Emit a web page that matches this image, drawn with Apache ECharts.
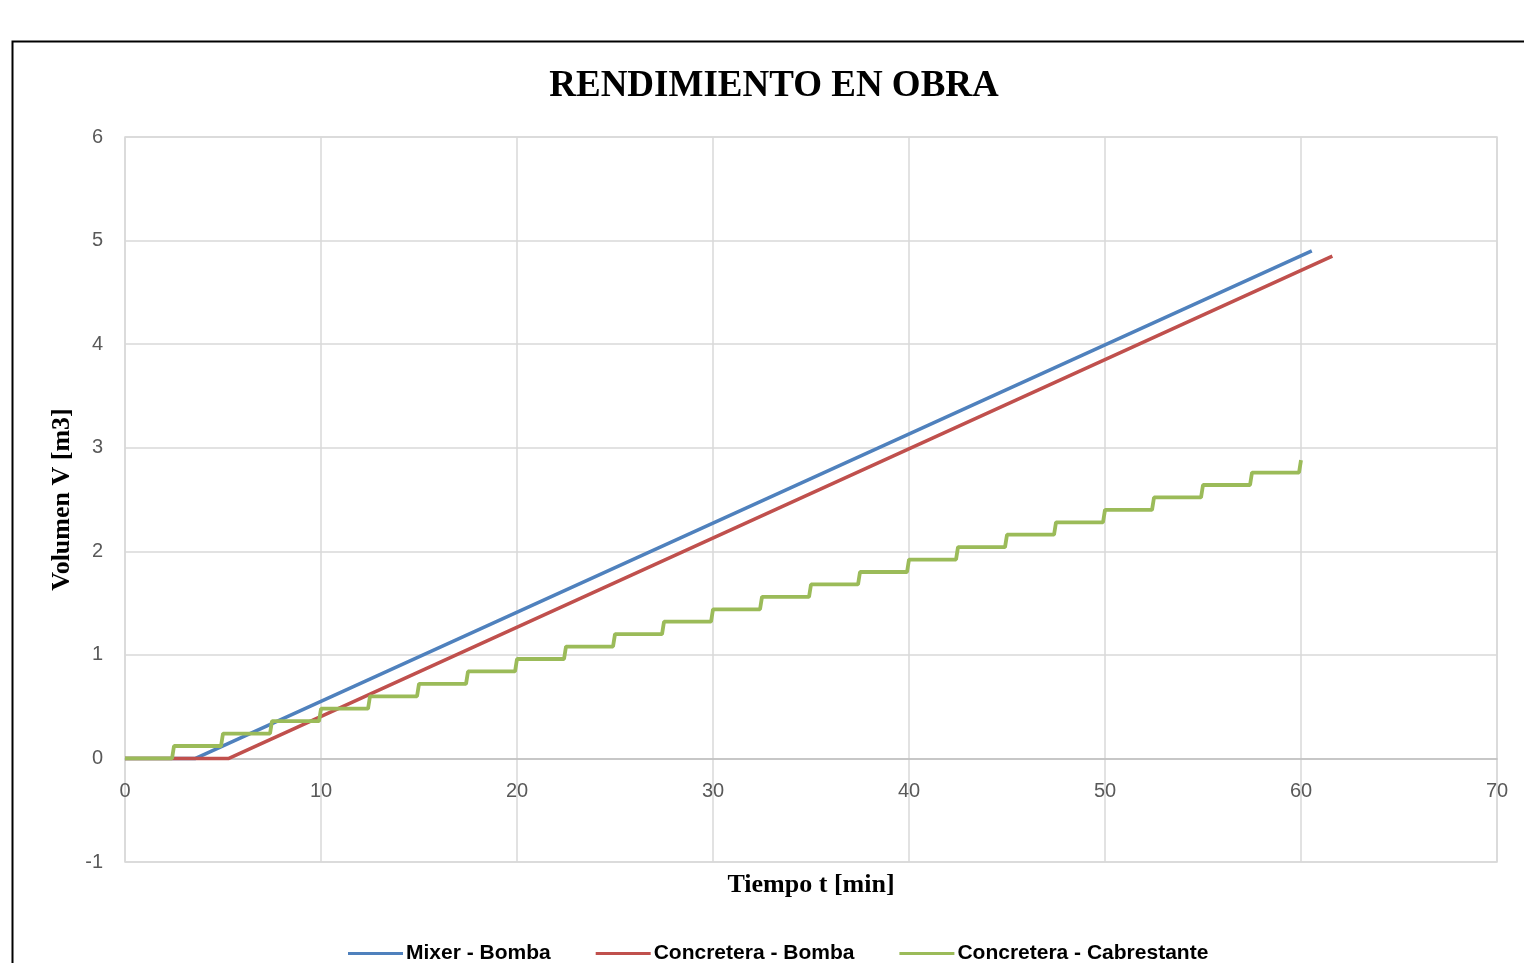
<!DOCTYPE html>
<html>
<head>
<meta charset="utf-8">
<script src="https://cdn.jsdelivr.net/npm/echarts@6/dist/echarts.min.js"></script>
<style>html,body{margin:0;padding:0;background:#fff;}#c{width:1524px;height:963px;}</style>
</head>
<body>
<div id="c"></div>
<script>
const xTicks = [0, 10, 20, 30, 40, 50, 60, 70];
const yTicks = [-1, 0, 1, 2, 3, 4, 5, 6];

const mixerT = [0, 3.6, 60.55];
const mixerV = [0, 0, 4.90];

const concBombaT = [0, 5.3, 61.6];
const concBombaV = [0, 0, 4.85];

const cabT = [0, 2.4, 2.5, 4.9, 5.0, 7.4, 7.5, 9.9, 10.0, 12.4, 12.5, 14.9, 15.0, 17.4, 17.5, 19.9, 20.0, 22.4, 22.5, 24.9, 25.0, 27.4, 27.5, 29.9, 30.0, 32.4, 32.5, 34.9, 35.0, 37.4, 37.5, 39.9, 40.0, 42.4, 42.5, 44.9, 45.0, 47.4, 47.5, 49.9, 50.0, 52.4, 52.5, 54.9, 55.0, 57.4, 57.5, 59.9, 60.0];
const cabV = [0, 0, 0.12, 0.12, 0.24, 0.24, 0.36, 0.36, 0.48, 0.48, 0.60, 0.60, 0.72, 0.72, 0.84, 0.84, 0.96, 0.96, 1.08, 1.08, 1.20, 1.20, 1.32, 1.32, 1.44, 1.44, 1.56, 1.56, 1.68, 1.68, 1.80, 1.80, 1.92, 1.92, 2.04, 2.04, 2.16, 2.16, 2.28, 2.28, 2.40, 2.40, 2.52, 2.52, 2.64, 2.64, 2.76, 2.76, 2.88];

const seriesNames = ['Mixer - Bomba', 'Concretera - Bomba', 'Concretera - Cabrestante'];
const colors = ['#4F81BD', '#C0504D', '#9BBB59'];

function pairs(t, v) { return t.map((x, i) => [x, v[i]]); }

const chart = echarts.init(document.getElementById('c'));
const serif = '"Liberation Serif", "Times New Roman", serif';
const sans = '"Liberation Sans", Arial, sans-serif';

chart.setOption({
  animation: false,
  backgroundColor: '#ffffff',
  color: colors,
  title: {
    text: 'RENDIMIENTO EN OBRA',
    left: 769, top: 63, textAlign: 'center',
    textStyle: { fontFamily: serif, fontWeight: 'bold', fontSize: 37, color: '#000' }
  },
  graphic: [{
    type: 'rect', left: 10, top: 39, silent: true,
    shape: { x: 0, y: 0, width: 1600, height: 1000 },
    style: { fill: 'none', stroke: '#000', lineWidth: 2 }
  }],
  legend: {
    data: seriesNames,
    bottom: -6, left: 343,
    itemWidth: 55, itemHeight: 3, itemGap: 45, icon: 'rect',
    textStyle: { fontFamily: sans, fontWeight: 'bold', fontSize: 21, color: '#000', padding: [0, 0, 0, -2] }
  },
  grid: {
    left: 125, top: 137, right: 27, bottom: 101,
    show: true, borderColor: '#D9D9D9', borderWidth: 1.5,
    containLabel: false, outerBoundsMode: 'none'
  },
  xAxis: {
    type: 'value', min: xTicks[0], max: xTicks[xTicks.length - 1], interval: 10,
    name: 'Tiempo t [min]', nameLocation: 'middle', nameGap: 10, nameMoveOverlap: false,
    nameTextStyle: { fontFamily: serif, fontWeight: 'bold', fontSize: 26, color: '#000' },
    axisLine: { onZero: true, lineStyle: { color: '#BFBFBF', width: 1.5 } },
    axisTick: { show: false },
    axisLabel: { fontFamily: sans, fontSize: 20, color: '#595959', margin: -81 },
    splitLine: { show: true, lineStyle: { color: '#D9D9D9', width: 1.5 } }
  },
  yAxis: {
    type: 'value', min: yTicks[0], max: yTicks[yTicks.length - 1], interval: 1,
    name: 'Volumen V [m3]', nameLocation: 'middle', nameGap: 50, nameMoveOverlap: false,
    nameTextStyle: { fontFamily: serif, fontWeight: 'bold', fontSize: 26, color: '#000' },
    axisLine: { show: false },
    axisTick: { show: false },
    axisLabel: { fontFamily: sans, fontSize: 20, color: '#595959', margin: 22 },
    splitLine: { show: true, lineStyle: { color: '#D9D9D9', width: 1.5 } }
  },
  series: [
    { name: seriesNames[0], type: 'line', data: pairs(mixerT, mixerV), showSymbol: false, lineStyle: { width: 3.5, color: colors[0] }, itemStyle: { color: colors[0] } },
    { name: seriesNames[1], type: 'line', data: pairs(concBombaT, concBombaV), showSymbol: false, lineStyle: { width: 3.5, color: colors[1] }, itemStyle: { color: colors[1] } },
    { name: seriesNames[2], type: 'line', data: pairs(cabT, cabV), showSymbol: false, lineStyle: { width: 3.8, color: colors[2] }, itemStyle: { color: colors[2] } }
  ]
});
</script>
</body>
</html>
